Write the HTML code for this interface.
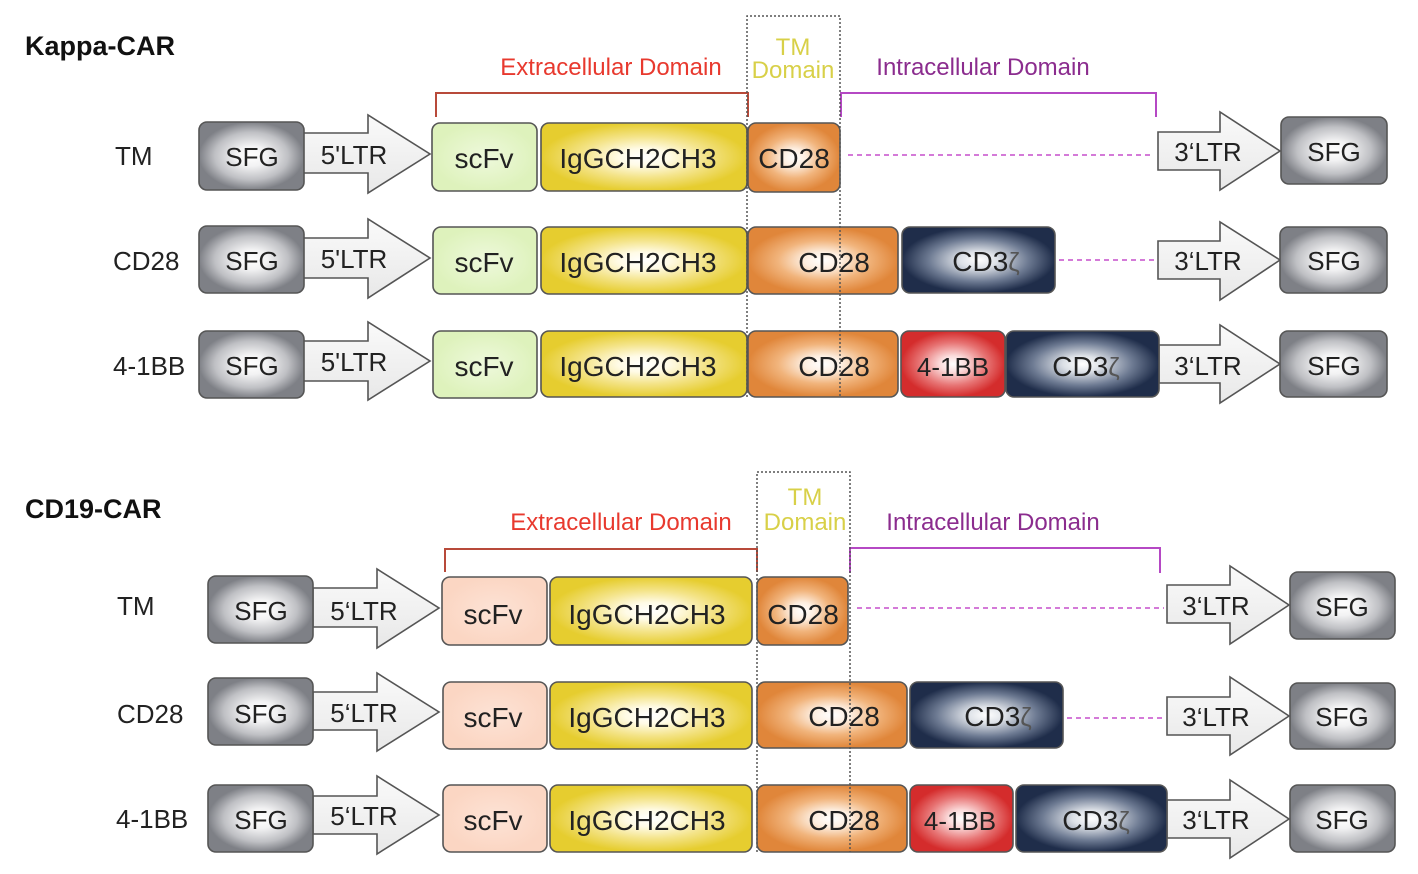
<!DOCTYPE html>
<html><head><meta charset="utf-8"><style>
html,body{margin:0;padding:0;background:#fff;}
svg{display:block;}
text{font-family:"Liberation Sans",Arial,sans-serif;}
</style></head><body>
<svg width="1418" height="874" viewBox="0 0 1418 874" xmlns="http://www.w3.org/2000/svg">
<defs>
<radialGradient id="gS" cx="0.5" cy="0.5" r="0.5"><stop offset="0" stop-color="#ffffff"/><stop offset="0.3" stop-color="#f2f2f3"/><stop offset="0.7" stop-color="#bfc0c4"/><stop offset="1" stop-color="#7e8086"/></radialGradient>
<radialGradient id="gG" cx="0.5" cy="0.5" r="0.5"><stop offset="0" stop-color="#eef9dc"/><stop offset="1" stop-color="#def2bc"/></radialGradient>
<radialGradient id="gP" cx="0.5" cy="0.5" r="0.5"><stop offset="0" stop-color="#fde3d6"/><stop offset="1" stop-color="#fbd6c3"/></radialGradient>
<radialGradient id="gY" cx="0.5" cy="0.5" r="0.5"><stop offset="0" stop-color="#ffffff"/><stop offset="0.25" stop-color="#fffbe6"/><stop offset="0.6" stop-color="#f4e48a"/><stop offset="1" stop-color="#e6cd2f"/></radialGradient>
<radialGradient id="gO" cx="0.5" cy="0.5" r="0.5"><stop offset="0" stop-color="#ffffff"/><stop offset="0.25" stop-color="#fdeee0"/><stop offset="0.6" stop-color="#f1b47c"/><stop offset="1" stop-color="#e0863a"/></radialGradient>
<radialGradient id="gN" cx="0.5" cy="0.5" r="0.5"><stop offset="0" stop-color="#ffffff"/><stop offset="0.25" stop-color="#dde1e7"/><stop offset="0.65" stop-color="#6e7b93"/><stop offset="1" stop-color="#1f2d4a"/></radialGradient>
<radialGradient id="gR" cx="0.5" cy="0.5" r="0.5"><stop offset="0" stop-color="#ffffff"/><stop offset="0.25" stop-color="#fbdcdc"/><stop offset="0.65" stop-color="#e77474"/><stop offset="1" stop-color="#d42c2c"/></radialGradient>
<linearGradient id="gA" x1="0" y1="0" x2="0" y2="1"><stop offset="0" stop-color="#fafafa"/><stop offset="1" stop-color="#e8e8e8"/></linearGradient>
</defs>

<g stroke="#555" stroke-width="1.6">
<!-- TOP arrows -->
<polygon fill="url(#gA)" points="303,133 368,133 368,115 430,154 368,193 368,173 303,173"/>
<polygon fill="url(#gA)" points="303,238 368,238 368,219 430,258 368,298 368,278 303,278"/>
<polygon fill="url(#gA)" points="303,341 368,341 368,322 430,361 368,400 368,381 303,381"/>
<polygon fill="url(#gA)" points="1158,132 1220,132 1220,112 1280,151 1220,190 1220,170 1158,170"/>
<polygon fill="url(#gA)" points="1158,241 1220,241 1220,222 1280,260 1220,300 1220,279 1158,279"/>
<polygon fill="url(#gA)" points="1159,345 1220,345 1220,325 1280,364 1220,403 1220,383 1159,383"/>
<!-- BOTTOM arrows -->
<polygon fill="url(#gA)" points="313,588 377,588 377,569 439,608 377,648 377,627 313,627"/>
<polygon fill="url(#gA)" points="313,692 377,692 377,673 439,712 377,751 377,730 313,730"/>
<polygon fill="url(#gA)" points="313,796 377,796 377,776 439,815 377,854 377,834 313,834"/>
<polygon fill="url(#gA)" points="1167,585 1230,585 1230,566 1289,605 1230,644 1230,623 1167,623"/>
<polygon fill="url(#gA)" points="1167,697 1230,697 1230,677 1289,716 1230,755 1230,735 1167,735"/>
<polygon fill="url(#gA)" points="1167,800 1230,800 1230,780 1289,819 1230,858 1230,838 1167,838"/>

<!-- TOP row 1 -->
<rect x="199" y="122" width="105" height="68" rx="8" fill="url(#gS)"/>
<rect x="432" y="123" width="105" height="68" rx="8" fill="url(#gG)"/>
<rect x="541" y="123" width="206" height="68" rx="8" fill="url(#gY)"/>
<rect x="748" y="123" width="92" height="69" rx="8" fill="url(#gO)"/>
<rect x="1281" y="117" width="106" height="67" rx="8" fill="url(#gS)"/>
<!-- TOP row 2 -->
<rect x="199" y="226" width="105" height="67" rx="8" fill="url(#gS)"/>
<rect x="433" y="227" width="104" height="67" rx="8" fill="url(#gG)"/>
<rect x="541" y="227" width="206" height="67" rx="8" fill="url(#gY)"/>
<rect x="748" y="227" width="150" height="67" rx="8" fill="url(#gO)"/>
<rect x="902" y="227" width="153" height="66" rx="8" fill="url(#gN)"/>
<rect x="1280" y="227" width="107" height="66" rx="8" fill="url(#gS)"/>
<!-- TOP row 3 -->
<rect x="199" y="331" width="105" height="67" rx="8" fill="url(#gS)"/>
<rect x="433" y="331" width="104" height="67" rx="8" fill="url(#gG)"/>
<rect x="541" y="331" width="206" height="66" rx="8" fill="url(#gY)"/>
<rect x="748" y="331" width="150" height="66" rx="8" fill="url(#gO)"/>
<rect x="901" y="331" width="104" height="66" rx="8" fill="url(#gR)"/>
<rect x="1006" y="331" width="153" height="66" rx="8" fill="url(#gN)"/>
<rect x="1280" y="331" width="107" height="66" rx="8" fill="url(#gS)"/>

<!-- BOTTOM row 1 -->
<rect x="208" y="576" width="105" height="67" rx="8" fill="url(#gS)"/>
<rect x="442" y="577" width="105" height="68" rx="8" fill="url(#gP)"/>
<rect x="550" y="577" width="202" height="68" rx="8" fill="url(#gY)"/>
<rect x="757" y="577" width="91" height="68" rx="8" fill="url(#gO)"/>
<rect x="1290" y="572" width="105" height="67" rx="8" fill="url(#gS)"/>
<!-- BOTTOM row 2 -->
<rect x="208" y="678" width="105" height="67" rx="8" fill="url(#gS)"/>
<rect x="443" y="682" width="104" height="67" rx="8" fill="url(#gP)"/>
<rect x="550" y="682" width="202" height="67" rx="8" fill="url(#gY)"/>
<rect x="757" y="682" width="150" height="66" rx="8" fill="url(#gO)"/>
<rect x="910" y="682" width="153" height="66" rx="8" fill="url(#gN)"/>
<rect x="1290" y="683" width="105" height="66" rx="8" fill="url(#gS)"/>
<!-- BOTTOM row 3 -->
<rect x="208" y="785" width="105" height="67" rx="8" fill="url(#gS)"/>
<rect x="443" y="785" width="104" height="67" rx="8" fill="url(#gP)"/>
<rect x="550" y="785" width="202" height="67" rx="8" fill="url(#gY)"/>
<rect x="757" y="785" width="150" height="67" rx="8" fill="url(#gO)"/>
<rect x="910" y="785" width="103" height="67" rx="8" fill="url(#gR)"/>
<rect x="1016" y="785" width="151" height="67" rx="8" fill="url(#gN)"/>
<rect x="1290" y="785" width="105" height="67" rx="8" fill="url(#gS)"/>
</g>

<!-- brackets -->
<g fill="none" stroke-width="2">
<polyline points="436,117 436,93 748,93 748,117" stroke="#b84a3a"/>
<polyline points="841,117 841,93 1156,93 1156,117" stroke="#b548c4"/>
<polyline points="445,572 445,549 757,549 757,572" stroke="#b84a3a"/>
<polyline points="850,573 850,548 1160,548 1160,573" stroke="#b548c4"/>
</g>

<!-- dashed connectors -->
<g stroke="#d47ad8" stroke-width="2" stroke-dasharray="5,4">
<line x1="848" y1="155" x2="1153" y2="155"/>
<line x1="1059" y1="260" x2="1155" y2="260"/>
<line x1="857" y1="608" x2="1164" y2="608"/>
<line x1="1067" y1="718" x2="1165" y2="718"/>
</g>

<!-- TM dotted boxes -->
<g fill="none" stroke="#555" stroke-width="1.5" stroke-dasharray="2,2">
<path d="M747,397 V16 H840 V397"/>
<path d="M757,852 V472 H850 V852"/>
</g>

<!-- titles & domain labels -->
<text x="25" y="55" font-size="27" font-weight="bold" fill="#111">Kappa-CAR</text>
<text x="25" y="518" font-size="27" font-weight="bold" fill="#111">CD19-CAR</text>

<g font-size="24" text-anchor="middle">
<text x="611" y="75" fill="#e8392e">Extracellular Domain</text>
<text x="793" y="55" fill="#d8d048">TM</text>
<text x="793" y="78" fill="#d8d048">Domain</text>
<text x="983" y="75" fill="#8b2c8e">Intracellular Domain</text>
<text x="621" y="530" fill="#e8392e">Extracellular Domain</text>
<text x="805" y="505" fill="#d8d048">TM</text>
<text x="805" y="530" fill="#d8d048">Domain</text>
<text x="993" y="530" fill="#8b2c8e">Intracellular Domain</text>
</g>

<!-- row labels -->
<g font-size="26" fill="#222">
<text x="115" y="165">TM</text>
<text x="113" y="270">CD28</text>
<text x="113" y="375">4-1BB</text>
<text x="117" y="615">TM</text>
<text x="117" y="723">CD28</text>
<text x="116" y="828">4-1BB</text>
</g>

<!-- box texts -->
<g font-size="26" fill="#222" text-anchor="middle">
<text x="252" y="166">SFG</text>
<text x="354" y="164">5'LTR</text>
<text x="1208" y="161">3‘LTR</text>
<text x="1334" y="161">SFG</text>
<text x="252" y="270">SFG</text>
<text x="354" y="268">5'LTR</text>
<text x="1208" y="270">3‘LTR</text>
<text x="1334" y="270">SFG</text>
<text x="252" y="375">SFG</text>
<text x="354" y="371">5'LTR</text>
<text x="1208" y="375">3‘LTR</text>
<text x="1334" y="375">SFG</text>

<text x="261" y="620">SFG</text>
<text x="364" y="620">5‘LTR</text>
<text x="1216" y="615">3‘LTR</text>
<text x="1342" y="616">SFG</text>
<text x="261" y="723">SFG</text>
<text x="364" y="722">5‘LTR</text>
<text x="1216" y="726">3‘LTR</text>
<text x="1342" y="726">SFG</text>
<text x="261" y="829">SFG</text>
<text x="364" y="825">5‘LTR</text>
<text x="1216" y="829">3‘LTR</text>
<text x="1342" y="829">SFG</text>
</g>

<g font-size="28" fill="#222" text-anchor="middle">
<text x="484" y="168">scFv</text>
<text x="638" y="168">IgGCH2CH3</text>
<text x="794" y="168">CD28</text>

<text x="484" y="272">scFv</text>
<text x="638" y="272">IgGCH2CH3</text>
<text x="834" y="272">CD28</text>
<text x="986" y="271">CD3<tspan fill="#555" font-size="26">ζ</tspan></text>

<text x="484" y="376">scFv</text>
<text x="638" y="376">IgGCH2CH3</text>
<text x="834" y="376">CD28</text>
<text x="953" y="376" font-size="26">4-1BB</text>
<text x="1086" y="376">CD3<tspan fill="#555" font-size="26">ζ</tspan></text>

<text x="493" y="624">scFv</text>
<text x="647" y="624">IgGCH2CH3</text>
<text x="803" y="624">CD28</text>

<text x="493" y="727">scFv</text>
<text x="647" y="727">IgGCH2CH3</text>
<text x="844" y="726">CD28</text>
<text x="998" y="726">CD3<tspan fill="#555" font-size="26">ζ</tspan></text>

<text x="493" y="830">scFv</text>
<text x="647" y="830">IgGCH2CH3</text>
<text x="844" y="830">CD28</text>
<text x="960" y="830" font-size="26">4-1BB</text>
<text x="1096" y="830">CD3<tspan fill="#555" font-size="26">ζ</tspan></text>
</g>
</svg>
</body></html>
